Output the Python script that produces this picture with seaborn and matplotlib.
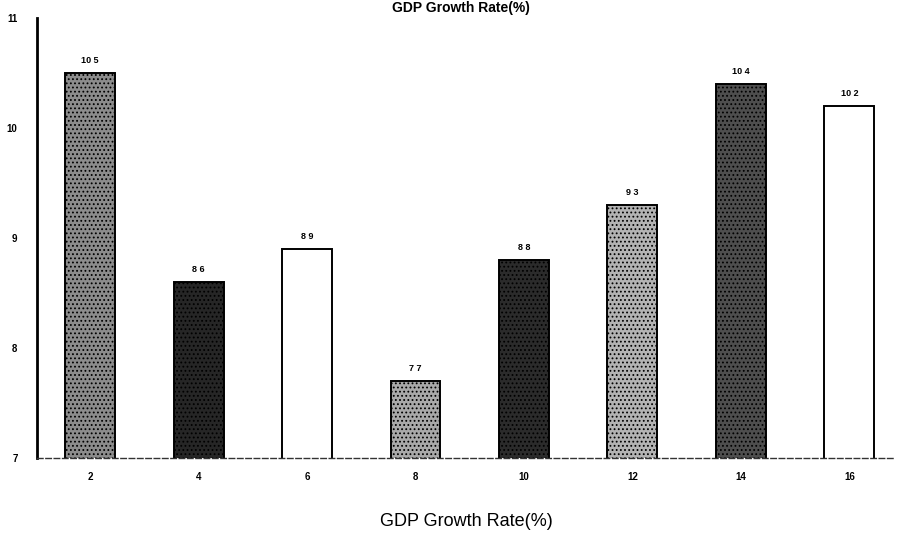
import matplotlib
matplotlib.use("Agg")
import matplotlib.pyplot as plt
import seaborn as sns
import pandas as pd

categories = ["2", "4", "6", "8", "10", "12", "14", "16"]
values = [10.5, 8.6, 8.9, 7.7, 8.8, 9.3, 10.4, 10.2]
value_labels = ["10.5", "8.6", "8.9", "7.7", "8.8", "9.3", "10.4", "10.2"]
yticks = [7, 8, 9, 10, 11]

bar_colors = ["#8c8c8c", "#262626", "#ffffff", "#a9a9a9", "#2b2b2b", "#b3b3b3", "#4e4e4e", "#ffffff"]
bar_hatches = ["....", "....", "", "....", "....", "....", "....", ""]

sns.set_theme(style="white")
plt.rcParams["font.family"] = ["Liberation Sans Narrow", "Liberation Sans", "DejaVu Sans"]
plt.rcParams["text.color"] = "black"
plt.rcParams["axes.labelcolor"] = "black"
plt.rcParams["xtick.color"] = "black"
plt.rcParams["ytick.color"] = "black"
plt.rcParams["hatch.linewidth"] = 0.8

df = pd.DataFrame({"cat": categories, "val": values})

fig = plt.figure(figsize=(9.03, 5.54), dpi=100)
ax = fig.add_axes([0.041, 0.173, 0.95, 0.795])

sns.barplot(data=df, x="cat", y="val", order=categories, ax=ax,
            width=0.46, color="#888888", edgecolor="black", linewidth=1.4)

for patch, c, h in zip(ax.patches, bar_colors, bar_hatches):
    patch.set_facecolor(c)
    patch.set_edgecolor("black")
    if h:
        patch.set_hatch(h)

ax.set_ylim(7, 11)
ax.set_xlim(-0.49, 7.42)
ax.set_yticks(yticks)
ax.set_yticklabels([str(t) for t in yticks], fontsize=7, fontweight="bold")
ax.set_xticks(range(len(categories)))
ax.set_xticklabels(categories, fontsize=7, fontweight="bold")
ax.tick_params(axis="y", length=0, pad=14)
ax.tick_params(axis="x", length=0, pad=10)

for i, (v, lab) in enumerate(zip(values, value_labels)):
    ax.text(i, v + 0.07, lab.replace(".", " "), ha="center", va="bottom",
            fontsize=6.5, fontweight="bold")

sns.despine(ax=ax, top=True, right=True)
ax.spines["left"].set_linewidth(2.0)
ax.spines["left"].set_color("black")
ax.spines["bottom"].set_linewidth(1.0)
ax.spines["bottom"].set_linestyle((0, (4, 2)))
ax.spines["bottom"].set_color("#333333")

ax.set_ylabel("")
ax.set_xlabel("GDP Growth Rate(%)", fontsize=13, labelpad=22, color="black")

fig.text(0.51, 0.999, "GDP Growth Rate(%)", ha="center", va="top",
         fontsize=10, fontweight="bold")

fig.savefig("out.png", dpi=100, facecolor="white")
